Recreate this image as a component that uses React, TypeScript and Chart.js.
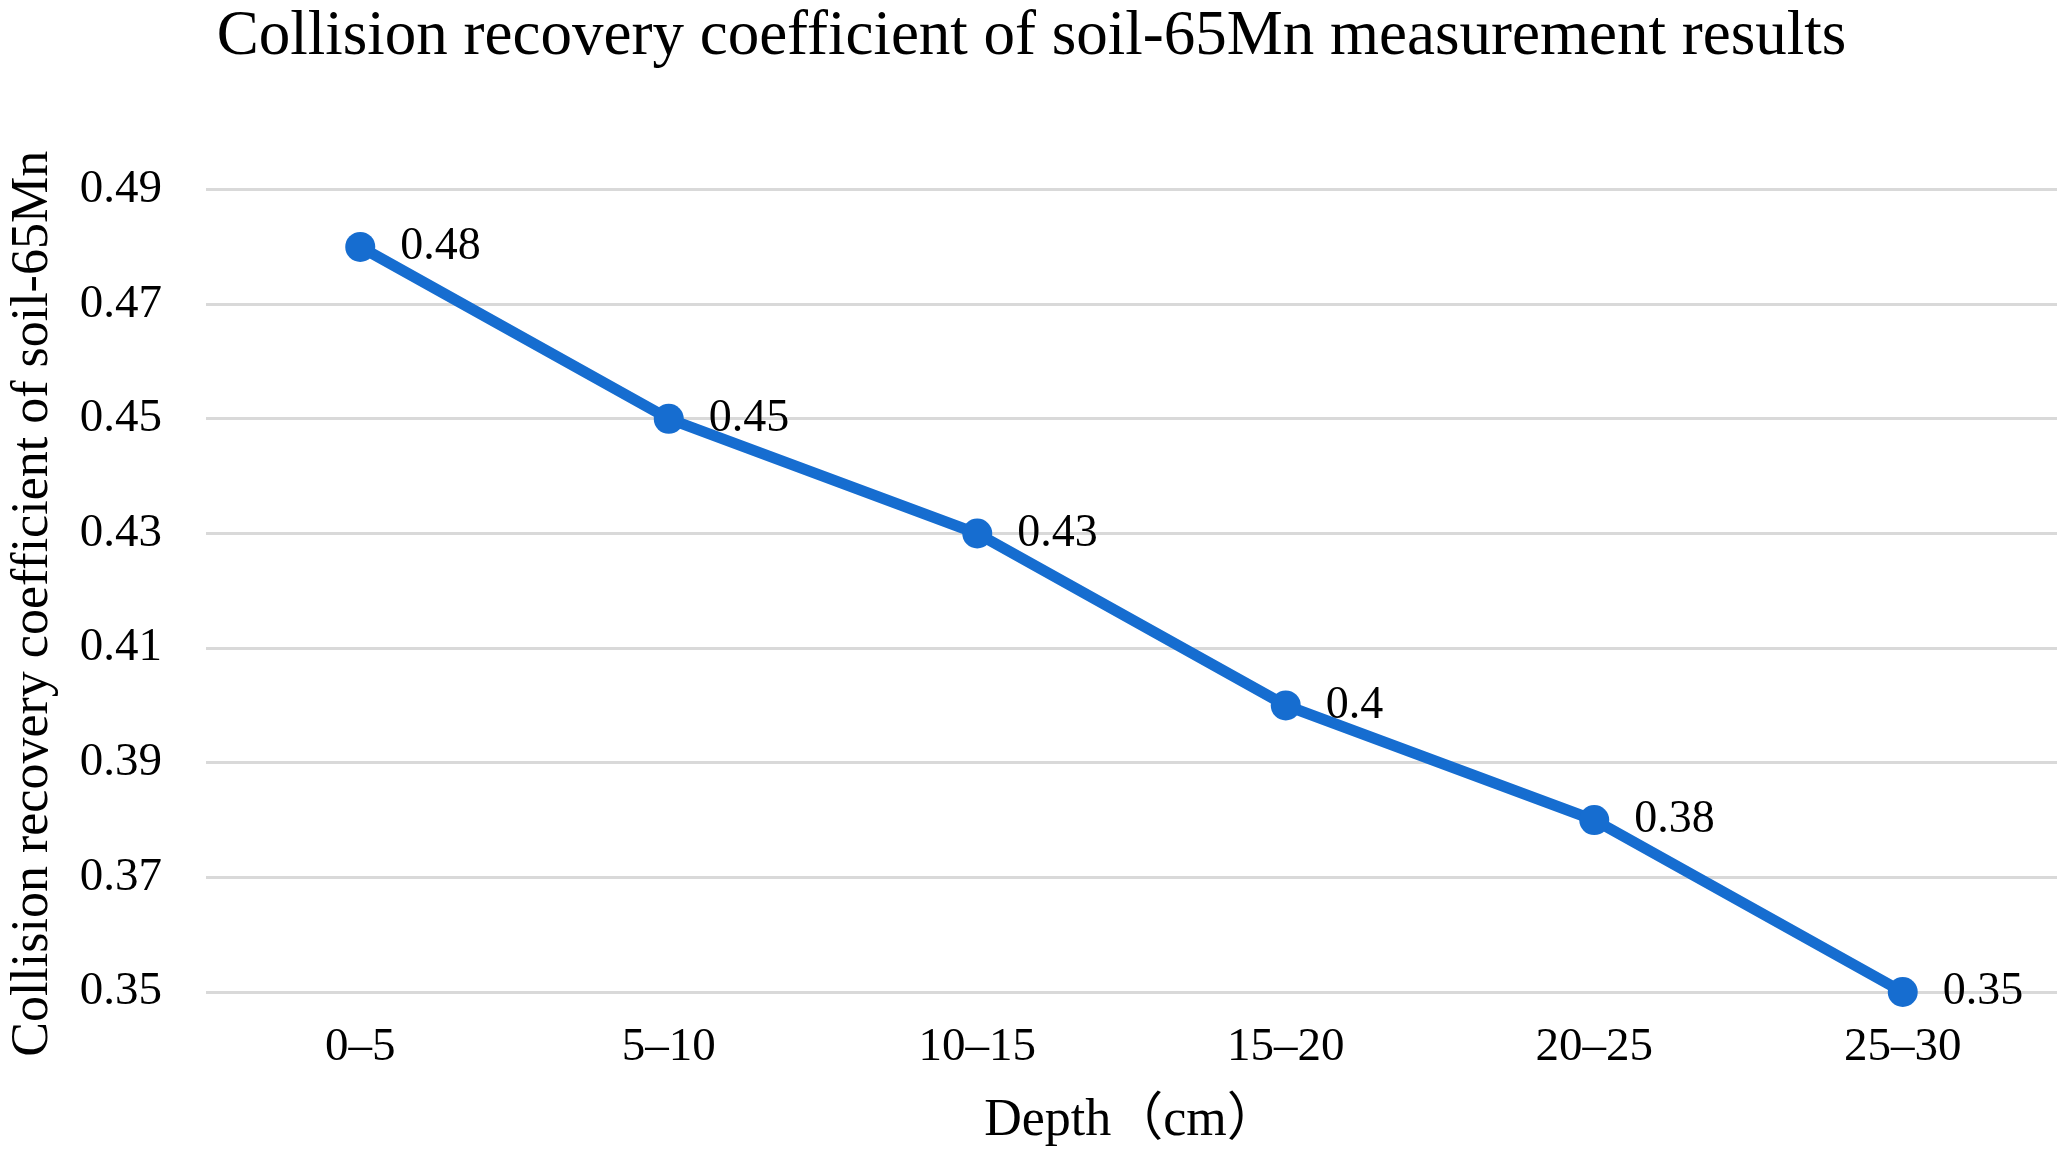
import React, { useEffect, useRef } from "react";
import { Chart, registerables } from "chart.js";

Chart.register(...registerables);

const TITLE = "Collision recovery coefficient of soil-65Mn measurement results";
const X_TITLE = "Depth（cm）";
const Y_TITLE = "Collision recovery coefficient of soil-65Mn  ";
const categories = ["0–5", "5–10", "10–15", "15–20", "20–25", "25–30"];
const values = [0.48, 0.45, 0.43, 0.4, 0.38, 0.35];
const yTickValues = [0.35, 0.37, 0.39, 0.41, 0.43, 0.45, 0.47, 0.49];

const SERIF = '"Liberation Serif", "Times New Roman", "Noto Sans CJK SC", serif';
const LINE_BLUE = "#166dd0";

const valueLabels = {
  id: "valueLabels",
  afterDatasetsDraw(chart: any) {
    const { ctx } = chart;
    const meta = chart.getDatasetMeta(0);
    ctx.save();
    ctx.font = `46px ${SERIF}`;
    ctx.fillStyle = "#000";
    ctx.textAlign = "left";
    ctx.textBaseline = "middle";
    meta.data.forEach((pt: any, i: number) => {
      ctx.fillText(String(values[i]), pt.x + 40, pt.y);
    });
    ctx.restore();
  },
};

export default function App() {
  const ref = useRef<HTMLCanvasElement | null>(null);

  useEffect(() => {
    if (!ref.current) return;
    const chart = new Chart(ref.current, {
      type: "line",
      data: {
        labels: categories,
        datasets: [
          {
            data: values,
            borderColor: LINE_BLUE,
            backgroundColor: LINE_BLUE,
            borderWidth: 11,
            pointRadius: 15,
            pointBorderWidth: 0,
            pointBackgroundColor: LINE_BLUE,
            tension: 0,
            clip: false as any,
          },
        ],
      },
      options: {
        animation: false,
        responsive: true,
        maintainAspectRatio: false,
        layout: { padding: { left: 0, right: 9, top: 0, bottom: 0 } },
        plugins: {
          legend: { display: false },
          tooltip: { enabled: false },
          title: {
            display: true,
            text: TITLE,
            color: "#000",
            font: { family: SERIF, size: 63, weight: "normal" as any, lineHeight: 1.2 },
            padding: { top: 0, bottom: 114 },
          },
        },
        scales: {
          x: {
            type: "category",
            offset: true,
            grid: { display: false, drawTicks: false },
            border: { display: false },
            ticks: {
              color: "#000",
              padding: 27,
              font: { family: SERIF, size: 47 },
              maxRotation: 0,
              autoSkip: false,
            },
            title: {
              display: true,
              text: X_TITLE,
              color: "#000",
              font: { family: SERIF, size: 52, lineHeight: 1.2 },
              padding: { top: 0, bottom: 11 },
            },
            afterFit(scale: any) {
              scale.height = 172;
            },
          },
          y: {
            type: "linear",
            min: 0.35,
            max: 0.49,
            grid: { color: "#d9d9d9", lineWidth: 3, drawTicks: false },
            border: { display: false },
            afterBuildTicks(scale: any) {
              scale.ticks = yTickValues.map((v) => ({ value: v }));
            },
            ticks: {
              color: "#000",
              padding: 44,
              font: { family: SERIF, size: 47 },
              callback: (v: any) => Number(v).toFixed(2),
            },
            title: {
              display: true,
              text: Y_TITLE,
              color: "#000",
              font: { family: SERIF, size: 52, lineHeight: 1.2 },
              padding: { top: 2, bottom: 0 },
            },
            afterFit(scale: any) {
              scale.width = 206;
            },
          },
        },
      },
      plugins: [valueLabels],
    });
    return () => chart.destroy();
  }, []);

  return (
    <div
      style={{
        position: "absolute",
        left: 0,
        top: 0,
        width: 2072,
        height: 1164,
        background: "#fff",
      }}
    >
      <canvas ref={ref} />
    </div>
  );
}
